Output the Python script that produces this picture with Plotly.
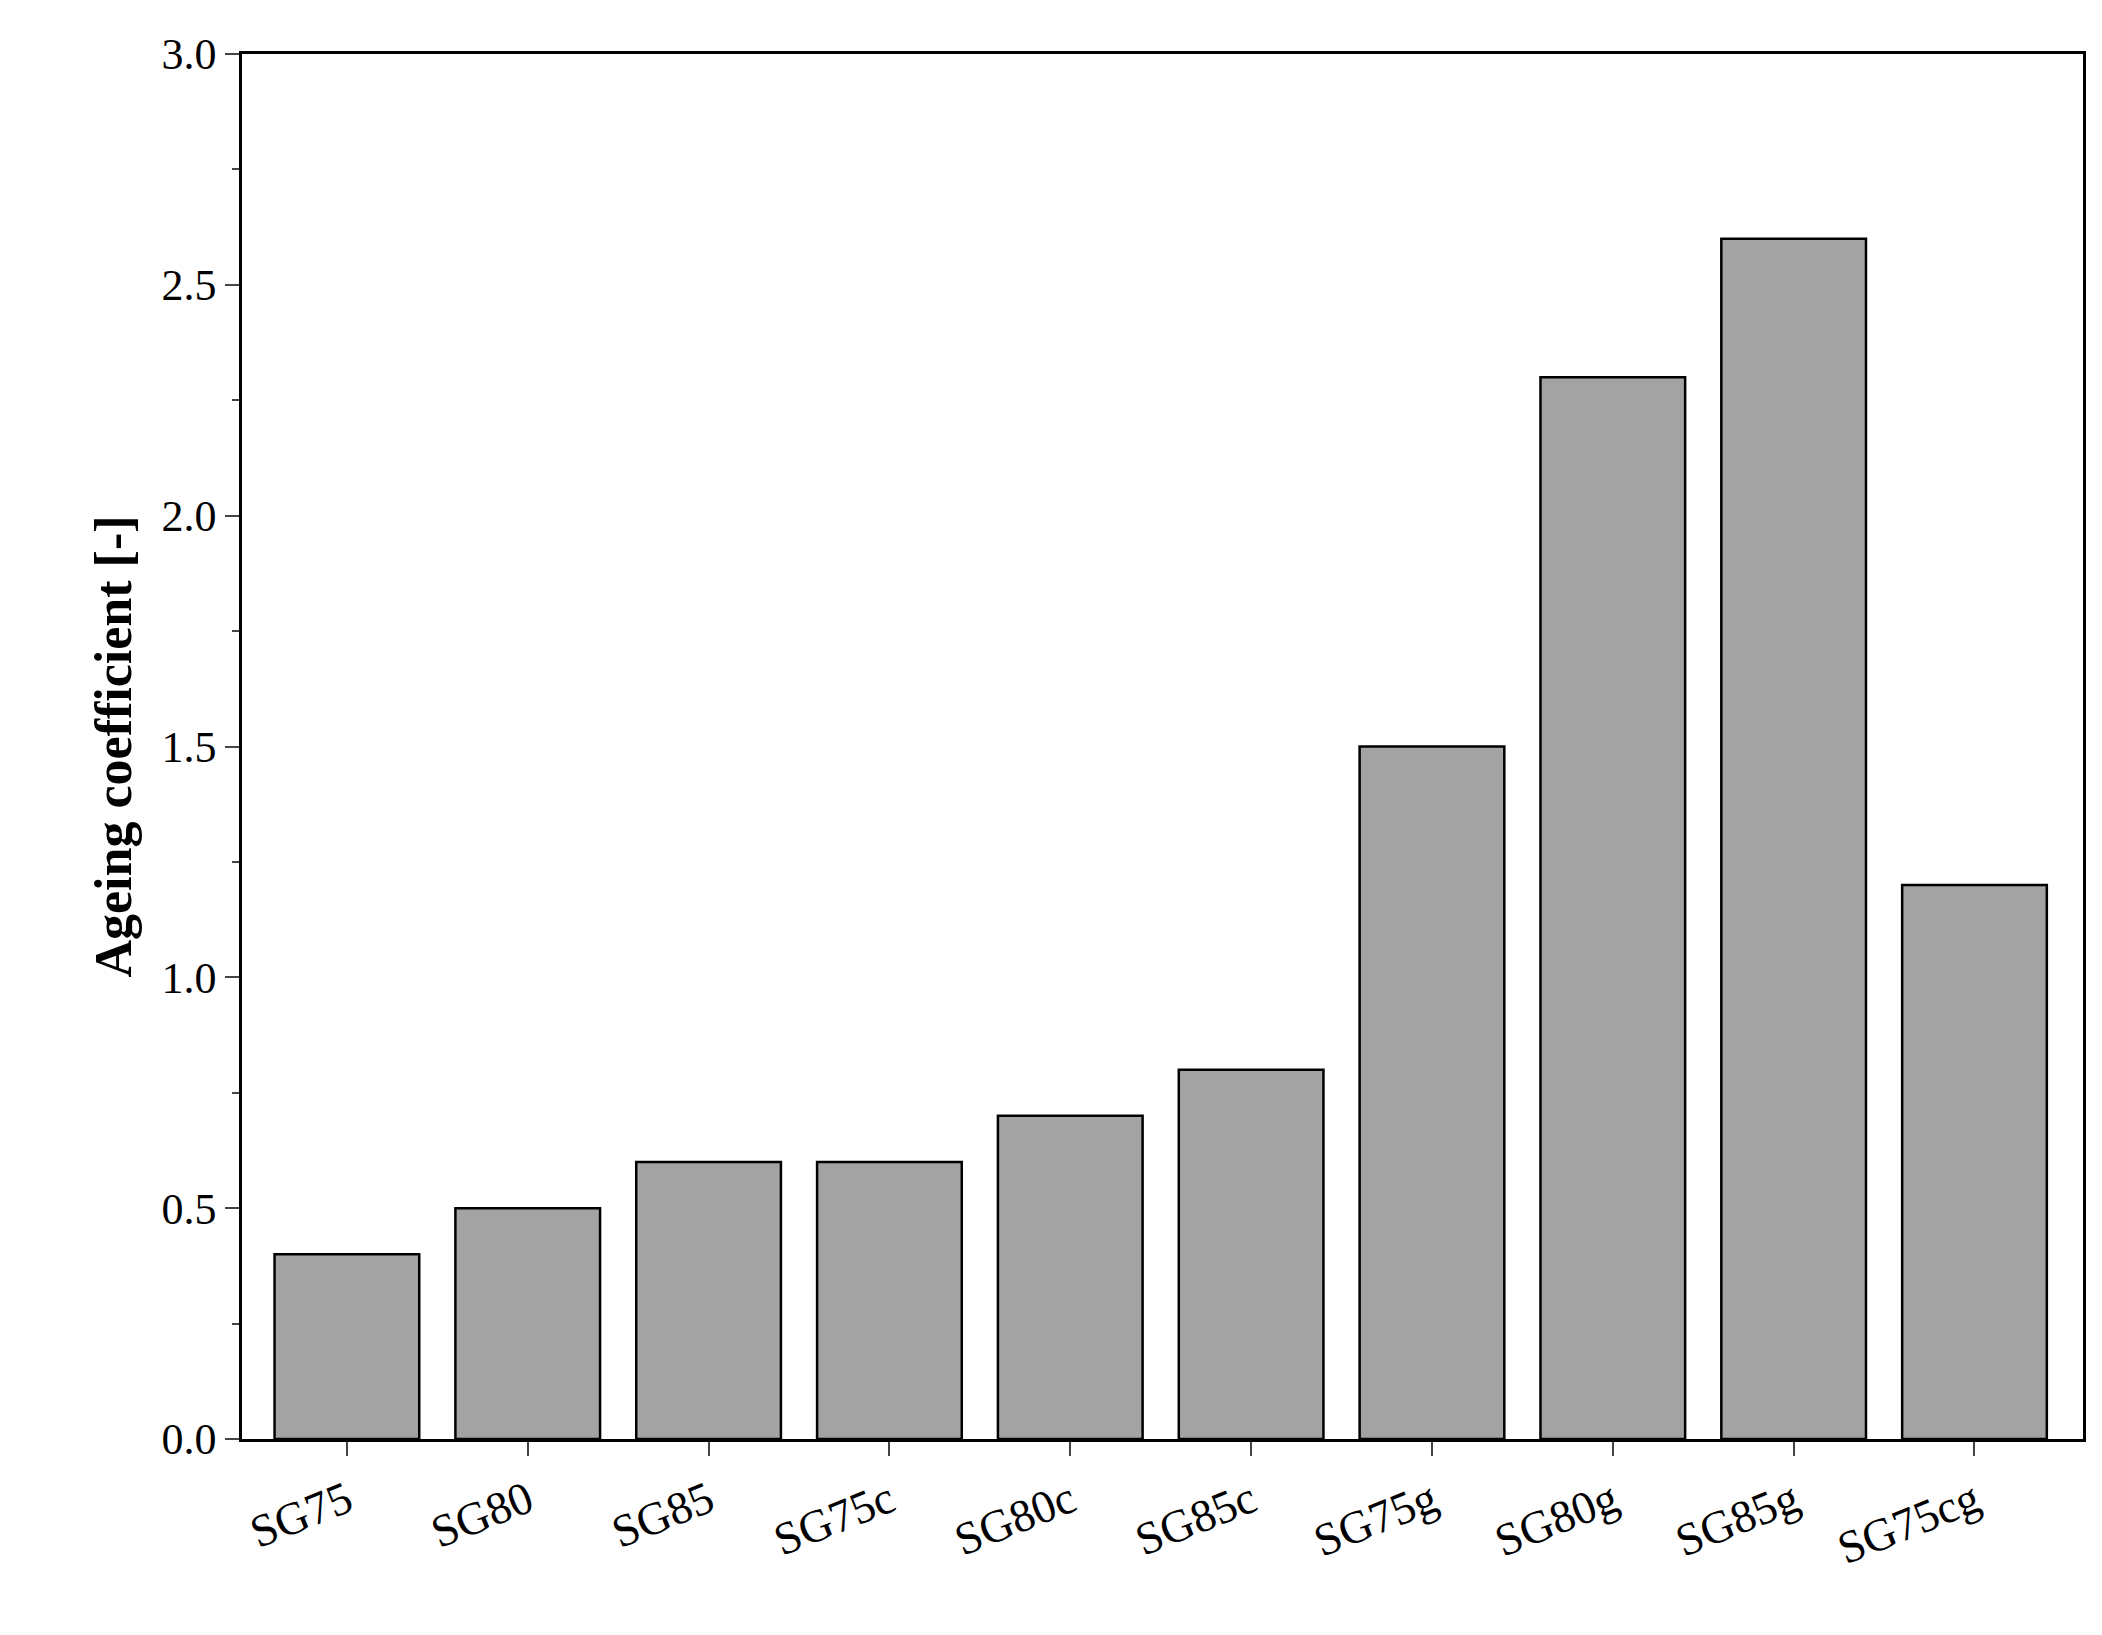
import plotly.graph_objects as go

categories = ["SG75", "SG80", "SG85", "SG75c", "SG80c", "SG85c", "SG75g", "SG80g", "SG85g", "SG75cg"]
values = [0.4, 0.5, 0.6, 0.6, 0.7, 0.8, 1.5, 2.3, 2.6, 1.2]

fig = go.Figure(go.Bar(x=categories, y=values, width=0.8,
                       marker=dict(color="#a3a3a3", line=dict(color="black", width=2.5))))
font = "Liberation Serif"
fig.update_layout(
    width=2102, height=1635, plot_bgcolor="white", paper_bgcolor="white",
    margin=dict(l=234, r=27, t=46, b=204), showlegend=False,
    font=dict(family=font, color="black", size=46),
)
fig.update_xaxes(showline=True, linecolor="black", linewidth=2.5, mirror=True,
                 ticks="outside", ticklen=14, tickwidth=2, tickangle=-22,
                 tickfont=dict(size=46), range=[-0.58, 9.6])
fig.update_yaxes(showline=True, linecolor="black", linewidth=2.5, mirror=True,
                 ticks="outside", ticklen=14, tickwidth=2, showgrid=False, zeroline=False,
                 range=[0, 3.0], dtick=0.5, tickformat=".1f", tickfont=dict(size=44),
                 minor=dict(ticks="outside", ticklen=7, tickwidth=2, dtick=0.25),
                 title=dict(text="<b>Ageing coefficient [-]</b>", font=dict(size=52), standoff=14))
fig.write_html("out.html")
